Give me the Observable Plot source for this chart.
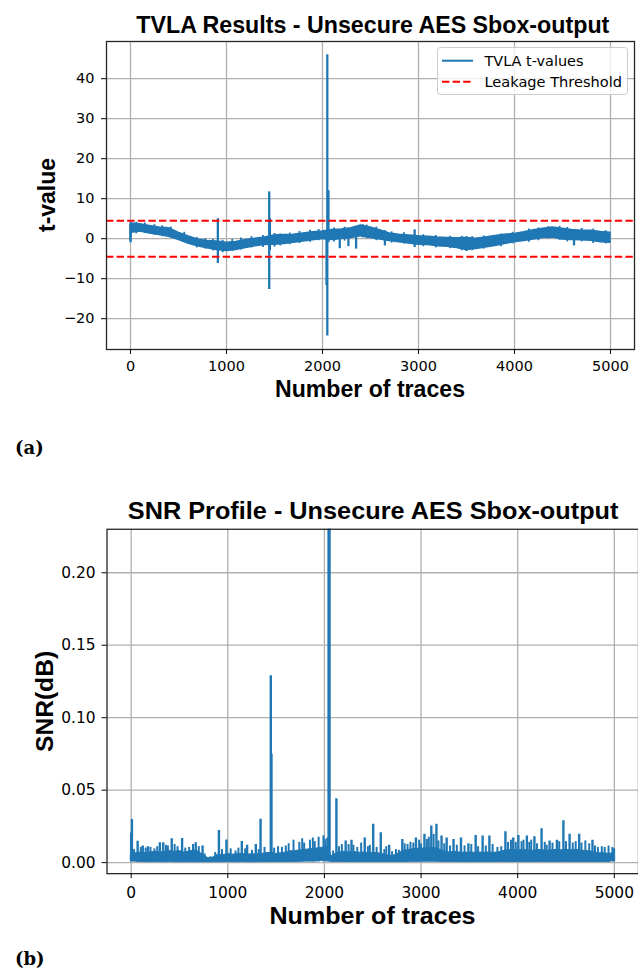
<!DOCTYPE html>
<html>
<head>
<meta charset="utf-8">
<script src="https://cdn.jsdelivr.net/npm/d3@7"></script>
<script src="https://cdn.jsdelivr.net/npm/@observablehq/plot@0.6"></script>
<style>
  html, body { margin: 0; padding: 0; background: #fff; }
  body { width: 638px; height: 974px; overflow: hidden; position: relative; }
  #c1, #c2 { position: absolute; left: 0; overflow: hidden; width: 638px; }
  #c1 { top: 0; }
  #c2 { top: 480px; }
  .sub { position: absolute; left: 15px; font-family: "DejaVu Serif", serif; font-weight: bold; font-size: 18px; line-height: 1; }
</style>
</head>
<body>
<div id="c1"></div>
<div id="c2"></div>
<div class="sub" style="top:439px">(a)</div>
<div class="sub" style="top:950px">(b)</div>
<script>
// ---------- shared ----------
const traceTicks = [0, 1000, 2000, 3000, 4000, 5000];

// ---------- (a) TVLA ----------
const tvTicksY = [-20, -10, 0, 10, 20, 30, 40];
const tvThreshold = [4.5, -4.5];
// envelope of the dense t-value trace (trace index, low, high)
const tvBandX  = [0, 10, 100, 200, 300, 400, 500, 600, 700, 800, 900, 1000, 1100, 1200, 1300, 1400, 1500, 1600, 1700, 1800, 1900, 2000, 2100, 2200, 2300, 2400, 2500, 2600, 2700, 2800, 2900, 3000, 3100, 3200, 3300, 3400, 3500, 3600, 3700, 3800, 3900, 4000, 4100, 4200, 4300, 4400, 4500, 4600, 4700, 4800, 4900, 5000];
const tvBandLo = [-0.5, 1.5, 1.8, 1.3, 0.9, 0.5, -0.3, -1.2, -1.9, -2.4, -2.8, -3.1, -2.8, -2.3, -1.9, -1.6, -1.5, -1.3, -1.0, -0.7, -0.4, -0.1, -0.3, -0.1, 0.2, 0.6, 0.2, -0.2, -0.6, -0.9, -1.2, -1.5, -1.6, -1.9, -2.0, -2.3, -2.8, -2.6, -2.2, -1.8, -1.3, -0.9, -0.6, -0.2, 0.2, 0.3, -0.2, -0.3, -0.4, -0.5, -0.9, -1.0];
const tvBandHi = [3.5, 3.8, 3.6, 3.2, 2.8, 2.6, 1.5, 0.6, -0.2, -0.6, -0.7, -1.0, -0.8, -0.3, 0.0, 0.3, 0.8, 0.9, 1.0, 1.3, 1.6, 1.8, 2.2, 2.3, 2.6, 3.3, 2.8, 2.1, 1.3, 1.0, 0.8, 0.6, 0.5, 0.3, 0.2, 0.1, 0.2, 0.0, 0.3, 0.7, 1.0, 1.2, 1.6, 2.1, 2.5, 2.8, 2.5, 2.2, 2.0, 2.0, 1.7, 1.5];
// isolated excursions of the t-value trace
const tvSpikeX  = [2, 910, 1445, 1452, 2042, 2050, 2062, 2180, 2270, 2350, 2650, 2960, 3500, 4620];
const tvSpikeLo = [-1.0, -6.2, -12.7, -3.0, -11.7, -24.3, -1.0, -2.5, -2.0, -2.6, -1.8, -2.2, -3.2, -1.8];
const tvSpikeHi = [4.0, 5.0, 11.7, 5.0, 1.0, 46.0, 12.0, 2.0, 2.0, 2.0, 2.0, 2.2, 0.5, 2.0];
// small ragged excursions along the band
const tvNoiseX  = [60, 150, 250, 330, 420, 560, 690, 780, 860, 960, 1060, 1150, 1260, 1380, 1500, 1560, 1660, 1760, 1870, 1960, 2120, 2230, 2420, 2460, 2560, 2720, 2850, 3050, 3180, 3330, 3450, 3560, 3680, 3860, 3980, 4150, 4250, 4350, 4470, 4550, 4700, 4820, 4950];
const tvNoiseLo = [1.2, 1.3, 0.9, 0.5, 0.2, -0.8, -2.3, -2.6, -3.1, -3.5, -3.2, -2.8, -2.3, -2.2, -2.1, -1.8, -1.5, -1.2, -0.9, -0.5, -0.8, -0.6, 0.2, 0.0, -0.5, -1.1, -1.3, -2.0, -2.3, -2.5, -3.0, -3.0, -2.6, -2.0, -1.3, -0.9, -0.5, -0.1, -0.4, -0.8, -0.8, -1.2, -1.3];
const tvNoiseHi = [4.1, 3.9, 3.5, 3.2, 2.9, 1.6, 0.3, 0.0, -0.2, -0.4, -0.2, 0.2, 0.5, 0.8, 1.3, 1.2, 1.4, 1.8, 2.1, 2.3, 2.7, 2.9, 3.5, 3.4, 2.9, 1.7, 1.5, 1.0, 0.8, 0.6, 0.6, 0.5, 0.7, 1.2, 1.6, 2.4, 2.7, 3.0, 3.1, 2.8, 2.6, 2.4, 2.0];

// ---------- (b) SNR ----------
const snrTicksY = [0, 0.05, 0.10, 0.15, 0.20];
const snrBandX  = [0, 50, 100, 150, 200, 250, 300, 350, 400, 450, 500, 550, 600, 650, 700, 750, 800, 850, 900, 950, 1000, 1050, 1100, 1150, 1200, 1250, 1300, 1350, 1400, 1450, 1500, 1550, 1600, 1650, 1700, 1750, 1800, 1850, 1900, 1950, 2000, 2040, 2070, 2100, 2150, 2200, 2250, 2300, 2350, 2400, 2450, 2500, 2550, 2600, 2650, 2700, 2750, 2800, 2850, 2900, 2950, 3000, 3050, 3100, 3150, 3200, 3250, 3300, 3350, 3400, 3450, 3500, 3550, 3600, 3650, 3700, 3750, 3800, 3850, 3900, 3950, 4000, 4050, 4100, 4150, 4200, 4250, 4300, 4350, 4400, 4450, 4500, 4550, 4600, 4650, 4700, 4750, 4800, 4850, 4900, 4950, 5000];
const snrBandHi = [0.005, 0.0065, 0.007, 0.0065, 0.007, 0.0075, 0.007, 0.0075, 0.008, 0.0075, 0.008, 0.007, 0.0075, 0.0085, 0.0075, 0.005, 0.003, 0.0035, 0.0055, 0.005, 0.006, 0.0055, 0.0058, 0.006, 0.0055, 0.0058, 0.0056, 0.006, 0.0065, 0.0068, 0.006, 0.0065, 0.0068, 0.0078, 0.008, 0.0085, 0.0088, 0.0092, 0.0095, 0.010, 0.0105, 0.011, 0.0042, 0.0055, 0.0068, 0.0075, 0.007, 0.0075, 0.0068, 0.007, 0.0065, 0.0068, 0.0065, 0.006, 0.005, 0.0046, 0.0055, 0.0075, 0.0085, 0.009, 0.0095, 0.0095, 0.010, 0.0102, 0.010, 0.0088, 0.0075, 0.007, 0.0075, 0.007, 0.0068, 0.007, 0.0068, 0.007, 0.0068, 0.007, 0.0068, 0.007, 0.008, 0.0085, 0.0088, 0.0085, 0.0088, 0.0085, 0.008, 0.0085, 0.0088, 0.008, 0.0085, 0.0088, 0.0085, 0.0088, 0.0085, 0.0088, 0.0085, 0.008, 0.0078, 0.0068, 0.0065, 0.0065, 0.006, 0.0068];
const snrBandLo = [0.0015, 0.0006, 0.0005, 0.0004, 0.0003, 0.0004, 0.0003, 0.0003, 0.0004, 0.0003, 0.0003, 0.0003, 0.0003, 0.0003, 0.0003, 0.0003, 0.0002, 0.0003, 0.0003, 0.0003, 0.0004, 0.0003, 0.0003, 0.0004, 0.0003, 0.0003, 0.0003, 0.0004, 0.0004, 0.0004, 0.0004, 0.0004, 0.0005, 0.0005, 0.0005, 0.0006, 0.0007, 0.0007, 0.0008, 0.001, 0.0014, 0.0018, 0.0005, 0.0005, 0.0005, 0.0005, 0.0004, 0.0005, 0.0004, 0.0004, 0.0004, 0.0004, 0.0004, 0.0004, 0.0004, 0.0004, 0.0004, 0.0004, 0.0005, 0.0006, 0.0006, 0.0006, 0.0007, 0.0007, 0.0007, 0.0006, 0.0005, 0.0005, 0.0005, 0.0004, 0.0004, 0.0004, 0.0004, 0.0004, 0.0004, 0.0004, 0.0004, 0.0005, 0.0005, 0.0005, 0.0005, 0.0005, 0.0005, 0.0005, 0.0005, 0.0005, 0.0005, 0.0005, 0.0005, 0.0005, 0.0005, 0.0005, 0.0005, 0.0005, 0.0005, 0.0005, 0.0005, 0.0004, 0.0004, 0.0004, 0.0004, 0.0015];
// tall SNR peaks
const snrSpikeX = [0, 8, 67, 120, 173, 297, 332, 420, 527, 668, 739, 908, 986, 1145, 1200, 1290, 1339, 1445, 1452, 2043, 2053, 2124, 2220, 2280, 2417, 2505, 2583, 2670, 2806, 2947, 3035, 3106, 3159, 3212, 3265, 3336, 3413, 3490, 3565, 3637, 3707, 3873, 3954, 4007, 4095, 4173, 4247, 4330, 4406, 4473, 4537, 4636, 4774, 4996];
const snrSpikeY = [0.0205, 0.0298, 0.0147, 0.0115, 0.011, 0.0138, 0.0138, 0.0165, 0.0167, 0.0138, 0.0115, 0.0222, 0.0156, 0.0145, 0.012, 0.0125, 0.030, 0.129, 0.075, 0.30, 0.30, 0.044, 0.015, 0.0155, 0.017, 0.0264, 0.0206, 0.012, 0.016, 0.017, 0.0195, 0.0252, 0.0264, 0.0183, 0.017, 0.016, 0.017, 0.013, 0.0188, 0.0183, 0.0183, 0.0213, 0.017, 0.0188, 0.0183, 0.0179, 0.0234, 0.015, 0.0154, 0.0289, 0.0195, 0.0195, 0.0154, 0.0096];
// dense small SNR peaks forming the ragged top of the noise floor
const snrSmallX = [30, 100, 150, 200, 240, 270, 360, 380, 450, 480, 560, 600, 640, 700, 760, 820, 870, 940, 1030, 1080, 1110, 1180, 1250, 1320, 1380, 1480, 1520, 1560, 1600, 1630, 1680, 1740, 1770, 1790, 1850, 1880, 1900, 1940, 1990, 2010, 2030, 2090, 2150, 2180, 2250, 2300, 2340, 2380, 2450, 2470, 2540, 2620, 2640, 2700, 2740, 2770, 2830, 2860, 2890, 2920, 2980, 3000, 3060, 3080, 3130, 3180, 3240, 3300, 3370, 3450, 3520, 3590, 3670, 3740, 3790, 3830, 3900, 3930, 3980, 4040, 4060, 4120, 4140, 4200, 4280, 4300, 4360, 4430, 4500, 4570, 4600, 4660, 4700, 4740, 4800, 4830, 4870, 4900, 4940, 4980];
const snrSmallY = [0.009, 0.0105, 0.010, 0.0105, 0.0095, 0.011, 0.012, 0.0115, 0.0125, 0.011, 0.010, 0.0105, 0.0125, 0.011, 0.006, 0.004, 0.007, 0.009, 0.0095, 0.008, 0.010, 0.0095, 0.0085, 0.009, 0.0105, 0.010, 0.011, 0.0105, 0.0115, 0.013, 0.0155, 0.014, 0.0165, 0.0135, 0.0155, 0.017, 0.0145, 0.0175, 0.0185, 0.016, 0.017, 0.008, 0.011, 0.0125, 0.0125, 0.012, 0.0105, 0.0135, 0.011, 0.012, 0.0105, 0.009, 0.011, 0.0075, 0.009, 0.0085, 0.013, 0.0125, 0.014, 0.0135, 0.0155, 0.013, 0.016, 0.0175, 0.0195, 0.015, 0.013, 0.0115, 0.012, 0.0115, 0.0125, 0.011, 0.0115, 0.0125, 0.0105, 0.011, 0.014, 0.0155, 0.014, 0.0145, 0.0155, 0.014, 0.0155, 0.013, 0.014, 0.012, 0.0135, 0.0145, 0.0145, 0.0135, 0.0145, 0.0135, 0.015, 0.013, 0.0115, 0.0105, 0.011, 0.0105, 0.0115, 0.0105];

// ---------- build tables ----------
const blue = "#1f77b4";
const tvBand = tvBandX.map((x, i) => ({x, lo: tvBandLo[i], hi: tvBandHi[i]}));
const tvSpikes = tvSpikeX.map((x, i) => ({x, lo: tvSpikeLo[i], hi: tvSpikeHi[i]}));
const tvNoise = tvNoiseX.map((x, i) => ({x, lo: tvNoiseLo[i], hi: tvNoiseHi[i]}));
const snrBand = snrBandX.map((x, i) => ({x, lo: snrBandLo[i], hi: snrBandHi[i]}));
const snrSpikes = snrSpikeX.map((x, i) => ({x, y: snrSpikeY[i]}));
const snrSmall = snrSmallX.map((x, i) => ({x, y: snrSmallY[i]}));

const gridStyle = {stroke: "#b0b0b0", strokeOpacity: 1, strokeWidth: 1.3};

// ---------- chart (a) ----------
const p1 = Plot.plot({
  width: 638, height: 410,
  marginLeft: 106, marginRight: 4, marginTop: 41, marginBottom: 61,
  x: {domain: [-250, 5250], label: null},
  y: {domain: [-27.7, 49.3], label: null},
  style: {fontFamily: "DejaVu Sans", fontSize: "14.5px", color: "black", background: "white"},
  marks: [
    Plot.gridX(traceTicks, gridStyle),
    Plot.gridY(tvTicksY, gridStyle),
    Plot.areaY(tvBand, {x: "x", y1: "lo", y2: "hi", fill: blue, stroke: blue, strokeWidth: 1.5}),
    Plot.ruleX(tvNoise, {x: "x", y1: "lo", y2: "hi", stroke: blue, strokeWidth: 1.8}),
    Plot.ruleX(tvSpikes, {x: "x", y1: "lo", y2: "hi", stroke: blue, strokeWidth: 2.3}),
    Plot.ruleY(tvThreshold, {stroke: "red", strokeWidth: 2, strokeDasharray: "7.4,3.2"}),
    Plot.frame({stroke: "#262626", strokeWidth: 1.3}),
    Plot.axisX(traceTicks, {tickSize: 5, tickPadding: 6, label: null, tickFormat: "d"}),
    Plot.axisY(tvTicksY, {tickSize: 5, tickPadding: 7, label: null, tickFormat: "d"})
  ]
});
document.getElementById("c1").appendChild(p1);

// ---------- chart (b) ----------
const p2 = Plot.plot({
  width: 641, height: 460,
  marginLeft: 107, marginRight: 0, marginTop: 49, marginBottom: 65,
  x: {domain: [-250, 5250], label: null},
  y: {domain: [-0.0076, 0.230], label: null},
  style: {fontFamily: "DejaVu Sans", fontSize: "15.5px", color: "black", background: "white"},
  marks: [
    Plot.gridX(traceTicks, gridStyle),
    Plot.gridY(snrTicksY, gridStyle),
    Plot.areaY(snrBand, {x: "x", y1: "lo", y2: "hi", fill: blue, stroke: blue, strokeWidth: 1}),
    Plot.ruleX(snrSmall, {x: "x", y1: 0.0005, y2: "y", stroke: blue, strokeWidth: 2}),
    Plot.ruleX(snrSpikes, {x: "x", y1: 0.0005, y2: "y", stroke: blue, strokeWidth: 2.4, clip: true}),
    Plot.frame({stroke: "#262626", strokeWidth: 1.3}),
    Plot.axisX(traceTicks, {tickSize: 5, tickPadding: 8, label: null, tickFormat: "d"}),
    Plot.axisY(snrTicksY, {tickSize: 5, tickPadding: 6.5, label: null, tickFormat: ".2f"})
  ]
});
document.getElementById("c2").appendChild(p2);

// ---------- titles, axis labels, legend ----------
function label(svg, txt, x, y, size, len, rotate) {
  const t = d3.select(svg).append("text")
    .attr("text-anchor", "middle")
    .attr("font-family", "'Liberation Sans', Arial, sans-serif")
    .attr("font-weight", "bold")
    .attr("font-size", size)
    .attr("fill", "black")
    .attr("textLength", len)
    .attr("lengthAdjust", "spacingAndGlyphs")
    .text(txt);
  if (rotate) t.attr("transform", `translate(${x},${y}) rotate(-90)`);
  else t.attr("x", x).attr("y", y);
}
label(p1, "TVLA Results - Unsecure AES Sbox-output", 372.8, 33.3, 23, 473);
label(p1, "Number of traces", 370, 396.5, 23, 190);
label(p1, "t-value", 55, 195, 23, 74, true);

label(p2, "SNR Profile - Unsecure AES Sbox-output", 374.9, 39.3, 23.5, 493);
label(p2, "Number of traces", 374.3, 446, 24, 207);
label(p2, "SNR(dB)", 53, 222.5, 24, 101.5, true);

// legend for (a)
const lg = d3.select(p1).append("g").attr("text-anchor", "start");
lg.append("rect").attr("x", 437.5).attr("y", 47.5).attr("width", 190).attr("height", 47).attr("rx", 3)
  .attr("fill", "white").attr("fill-opacity", 0.8).attr("stroke", "#cccccc").attr("stroke-width", 1);
lg.append("line").attr("x1", 442).attr("x2", 473).attr("y1", 60.7).attr("y2", 60.7)
  .attr("stroke", blue).attr("stroke-width", 2);
lg.append("line").attr("x1", 442).attr("x2", 473).attr("y1", 81.7).attr("y2", 81.7)
  .attr("stroke", "red").attr("stroke-width", 2).attr("stroke-dasharray", "7.4,3.2");
lg.append("text").attr("x", 484.5).attr("y", 65.5).attr("text-anchor", "start").attr("font-family", "DejaVu Sans").attr("font-size", 14)
  .attr("fill", "black").attr("textLength", 99).attr("lengthAdjust", "spacingAndGlyphs").text("TVLA t-values");
lg.append("text").attr("x", 484.5).attr("y", 86.8).attr("text-anchor", "start").attr("font-family", "DejaVu Sans").attr("font-size", 14)
  .attr("fill", "black").attr("textLength", 137.5).attr("lengthAdjust", "spacingAndGlyphs").text("Leakage Threshold");
</script>
</body>
</html>
